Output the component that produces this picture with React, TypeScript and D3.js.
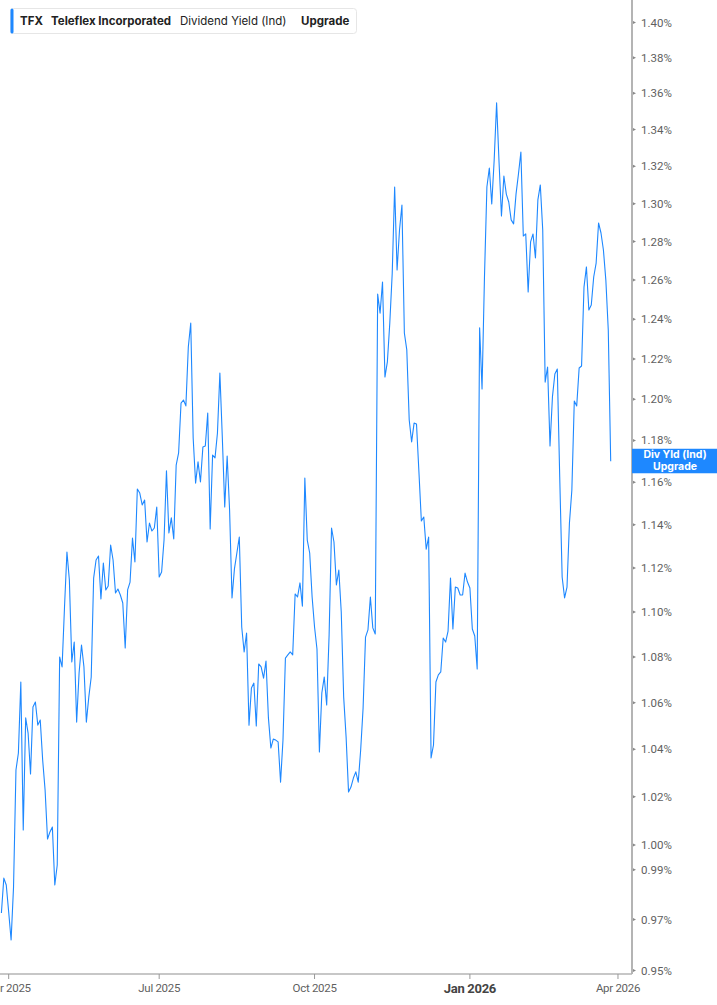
import React from "react";
import * as d3 from "d3";

// Dividend yield (Ind), one value per trading day, starting 2025-03-27
const yields: number[] = [
  0.9726, 0.9866, 0.9838, 0.973, 0.9619, 0.983, 1.0312, 1.0384, 1.069, 1.0062,
  1.0534, 1.0469, 1.0295, 1.0581, 1.0603, 1.0503, 1.0525, 1.0354, 1.0228, 1.0025,
  1.0054, 1.0074, 0.9838, 0.9919, 1.08, 1.0756, 1.1023, 1.1274, 1.1145, 1.0778,
  1.0866, 1.0516, 1.0729, 1.0853, 1.0756, 1.0516, 1.0624, 1.0712, 1.1154, 1.1237,
  1.1255, 1.1059, 1.1223, 1.11, 1.1118, 1.1306, 1.1237, 1.1086, 1.1104, 1.1077,
  1.1041, 1.084, 1.11, 1.1136, 1.1338, 1.1228, 1.1568, 1.1549, 1.1493, 1.1516,
  1.132, 1.1408, 1.1371, 1.1385, 1.1483, 1.1159, 1.1182, 1.1329, 1.1654, 1.1362,
  1.1432, 1.1334, 1.1682, 1.174, 1.1982, 1.1997, 1.1968, 1.226, 1.2381, 1.1812,
  1.1596, 1.1697, 1.1601, 1.1768, 1.1773, 1.1933, 1.138, 1.173, 1.1716, 1.1836,
  1.213, 1.1817, 1.1483, 1.1725, 1.1469, 1.1064, 1.1196, 1.1269, 1.1343, 1.0933,
  1.0822, 1.0906, 1.0503, 1.0664, 1.0685, 1.0499, 1.0769, 1.0756, 1.0707, 1.0782,
  1.0534, 1.0405, 1.0443, 1.0439, 1.0431, 1.0261, 1.0439, 1.0795, 1.0809, 1.0822,
  1.0809, 1.1082, 1.1068, 1.1132, 1.1027, 1.162, 1.1329, 1.1269, 1.1068, 1.0933,
  1.0835, 1.0388, 1.0642, 1.0712, 1.059, 1.0897, 1.1385, 1.132, 1.1123, 1.1191,
  1.1, 1.0624, 1.0452, 1.022, 1.024, 1.0278, 1.0304, 1.0261, 1.0397, 1.0577,
  1.0888, 1.092, 1.1068, 1.0929, 1.0902, 1.2528, 1.2431, 1.259, 1.211, 1.2185,
  1.2381, 1.2636, 1.3089, 1.2652, 1.2861, 1.2993, 1.233, 1.2245, 1.1899, 1.1793,
  1.1884, 1.188, 1.1649, 1.1418, 1.1436, 1.1287, 1.1343, 1.0363, 1.0418, 1.069,
  1.0721, 1.0734, 1.0884, 1.0866, 1.0915, 1.1154, 1.0924, 1.1113, 1.1109, 1.1077,
  1.1077, 1.1177, 1.1136, 1.1109, 1.0924, 1.0893, 1.0747, 1.2356, 1.2051, 1.2616,
  1.3089, 1.3191, 1.2998, 1.3234, 1.3547, 1.3223, 1.2935, 1.3148, 1.3051, 1.3009,
  1.2914, 1.2893, 1.3051, 1.3159, 1.3278, 1.2829, 1.284, 1.2539, 1.2798, 1.284,
  1.2714, 1.302, 1.31, 1.2861, 1.2085, 1.216, 1.1773, 1.2012, 1.2125, 1.215,
  1.1625, 1.1159, 1.1064, 1.1113, 1.1408, 1.1563, 1.1992, 1.1968, 1.2155, 1.2165,
  1.2564, 1.2668, 1.2447, 1.2472, 1.2616, 1.2688, 1.2898, 1.2845, 1.2756, 1.26,
  1.2345, 1.17,
];

const startDate = "2025-03-27";
const calendarEnd = "2026-04-30";
const holidays: string[] = [
  "2025-04-18", "2025-05-26", "2025-06-19", "2025-07-04", "2025-09-01",
  "2025-11-27", "2025-12-25", "2026-01-01", "2026-01-19", "2026-02-16", "2026-04-03",
];

const tickMonths: string[] = ["2025-04", "2025-07", "2025-10", "2026-01", "2026-04"];
const tickLabels: string[] = ["Apr 2025", "Jul 2025", "Oct 2025", "Jan 2026", "Apr 2026"];
const boldTick = "Jan 2026";

const yTicks: number[] = [
  1.4, 1.38, 1.36, 1.34, 1.32, 1.3, 1.28, 1.26, 1.24, 1.22, 1.2, 1.18, 1.16, 1.14,
  1.12, 1.1, 1.08, 1.06, 1.04, 1.02, 1.0, 0.99, 0.97, 0.95,
];

const fmtDay = d3.utcFormat("%Y-%m-%d");
const fmtMonth = d3.utcFormat("%Y-%m");

function tradingCalendar(): Date[] {
  const out: Date[] = [];
  const hol = new Set(holidays);
  const end = new Date(calendarEnd + "T00:00:00Z");
  for (let d = new Date(startDate + "T00:00:00Z"); d <= end; d = d3.utcDay.offset(d, 1)) {
    const wd = d.getUTCDay();
    if (wd === 0 || wd === 6) continue;
    if (hol.has(fmtDay(d))) continue;
    out.push(d);
  }
  return out;
}

export default function App() {
  const W = 717;
  const H = 1005;
  const axisX = 632;
  const axisY = 974;

  const calendar = tradingCalendar();
  const data = yields.map((v, i) => ({ i, date: calendar[i], v }));

  const x = d3.scaleLinear().domain([0, yields.length - 1]).range([1.4, 610.7]);
  const y = d3.scaleLog().domain([0.95, 1.4]).range([970.5, 22.5]);

  const line = d3
    .line<{ i: number; v: number }>()
    .x((d) => x(d.i))
    .y((d) => y(d.v));

  const xTicks = tickMonths.map((m, k) => {
    const idx = calendar.findIndex((d) => fmtMonth(d) === m);
    return { idx, label: tickLabels[k] };
  });

  const last = data[data.length - 1];
  const lastY = y(last.v);
  const blue = "#1e88ff";
  const axisColor = "#b4b4b4";

  return (
    <svg
      width={W}
      height={H}
      style={{ position: "absolute", left: 0, top: 0, background: "#fff" }}
      fontFamily="Inter, 'Noto Sans', sans-serif"
    >
      <defs>
        <clipPath id="plot">
          <rect x={0} y={0} width={axisX} height={axisY} />
        </clipPath>
      </defs>

      <path
        d={line(data) || ""}
        fill="none"
        stroke={blue}
        strokeWidth={1.1}
        strokeLinejoin="round"
        clipPath="url(#plot)"
      />

      {/* y axis */}
      <line x1={axisX} x2={axisX} y1={0} y2={axisY} stroke={axisColor} strokeWidth={2} />
      {yTicks.map((t) => (
        <g key={t} transform={`translate(${axisX},${y(t)})`}>
          <path d="M1,-1.5 L4,0 L1,1.5 Z" fill="#888" />
          <text x={9} dy="0.35em" fontSize={11.5} fill="#5f5f5f" fontFamily="Roboto, sans-serif">
            {d3.format(".2f")(t)}%
          </text>
        </g>
      ))}

      {/* x axis */}
      <line x1={0} x2={axisX} y1={axisY} y2={axisY} stroke={axisColor} strokeWidth={1.5} />
      {xTicks.map((t) => {
        const bold = t.label === boldTick;
        return (
          <g key={t.label} transform={`translate(${x(t.idx)},${axisY})`}>
            <line y1={0} y2={5} stroke="#999" strokeWidth={1} />
            <text
              y={bold ? 19 : 18}
              textAnchor="middle"
              fontSize={bold ? 13 : 11.5}
              fontWeight={bold ? 700 : 400}
              fill={bold ? "#444" : "#5f5f5f"}
              fontFamily="Roboto, sans-serif"
              letterSpacing={-0.3}
            >
              {t.label}
            </text>
          </g>
        );
      })}

      {/* last value label */}
      <rect x={axisX} y={lastY - 12.5} width={W - axisX} height={24.5} fill={blue} />
      <text x={675} y={lastY - 3.5} textAnchor="middle" fontSize={10.5} fontWeight={700} fill="#fff">
        Div Yld (Ind)
      </text>
      <text x={675} y={lastY + 8.5} textAnchor="middle" fontSize={10.5} fontWeight={700} fill="#fff">
        Upgrade
      </text>

      {/* header legend */}
      <g>
        <rect x={10.5} y={8.5} width={346} height={25} rx={3} fill="#fff" stroke="#e6e6e6" />
        <rect x={10.5} y={8.5} width={3} height={25} rx={1.5} fill={blue} />
        <text x={20} y={25} fontSize={11.5} fontWeight={700} fill="#222">TFX</text>
        <text x={51} y={25} fontSize={11.5} fontWeight={700} fill="#222">Teleflex Incorporated</text>
        <text x={180} y={25} fontSize={11.5} fontWeight={400} fill="#222">Dividend Yield (Ind)</text>
        <text x={301} y={25} fontSize={11.5} fontWeight={700} fill="#222">Upgrade</text>
      </g>
    </svg>
  );
}
